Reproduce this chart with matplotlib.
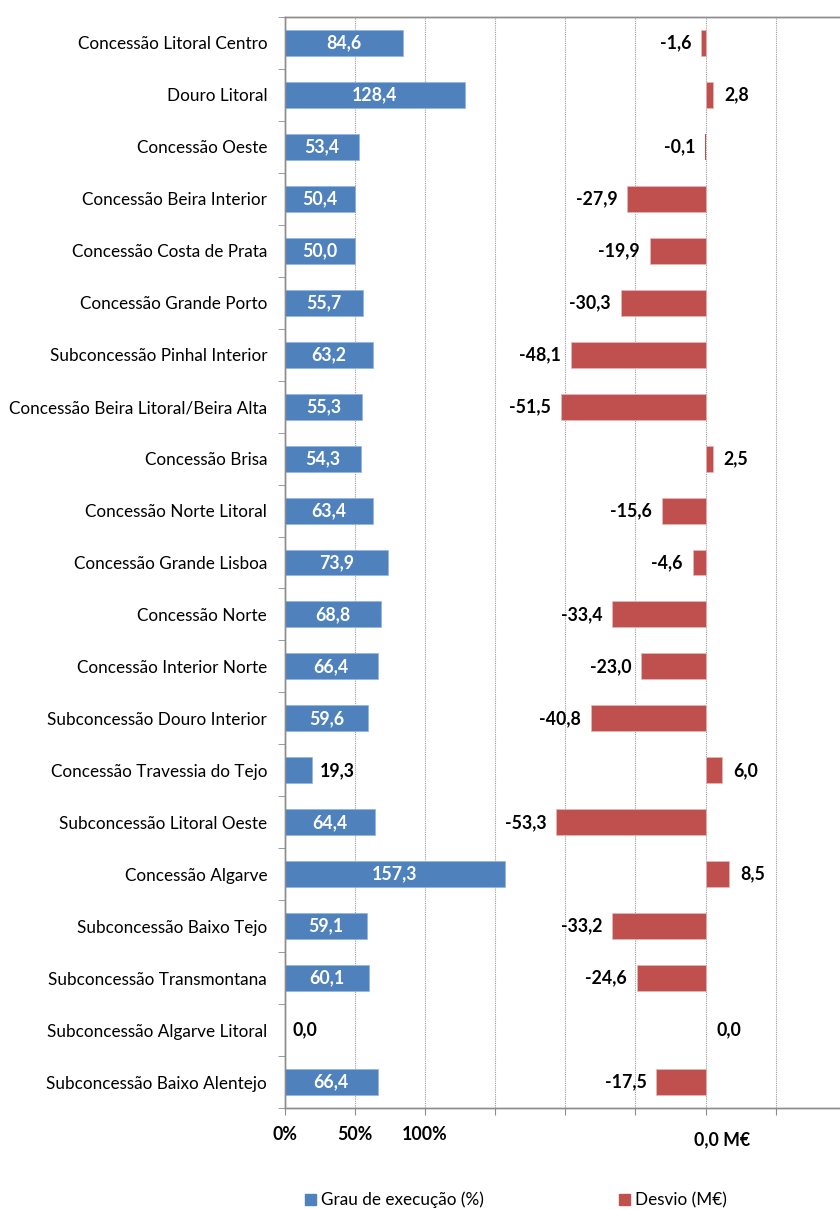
import matplotlib
matplotlib.use("Agg")
import matplotlib.pyplot as plt
import matplotlib.transforms as mtrans
from matplotlib.patches import Patch

categories = [
    "Concessão Litoral Centro", "Douro Litoral", "Concessão Oeste",
    "Concessão Beira Interior", "Concessão Costa de Prata", "Concessão Grande Porto",
    "Subconcessão Pinhal Interior", "Concessão Beira Litoral/Beira Alta", "Concessão Brisa",
    "Concessão Norte Litoral", "Concessão Grande Lisboa", "Concessão Norte",
    "Concessão Interior Norte", "Subconcessão Douro Interior", "Concessão Travessia do Tejo",
    "Subconcessão Litoral Oeste", "Concessão Algarve", "Subconcessão Baixo Tejo",
    "Subconcessão Transmontana", "Subconcessão Algarve Litoral", "Subconcessão Baixo Alentejo",
]
grau = [84.6, 128.4, 53.4, 50.4, 50.0, 55.7, 63.2, 55.3, 54.3, 63.4, 73.9,
        68.8, 66.4, 59.6, 19.3, 64.4, 157.3, 59.1, 60.1, 0.0, 66.4]
desvio = [-1.6, 2.8, -0.1, -27.9, -19.9, -30.3, -48.1, -51.5, 2.5, -15.6, -4.6,
          -33.4, -23.0, -40.8, 6.0, -53.3, 8.5, -33.2, -24.6, 0.0, -17.5]
pct_tick_labels = ["0%", "50%", "100%"]
euro_label = "0,0 M€"
legend_labels = ["Grau de execução (%)", "Desvio (M€)"]

BLUE = "#4F81BD"
RED = "#C0504D"
FONT = "Lato"
FS = 12.3
FSB = 12.8

plt.rcParams["font.family"] = [FONT, "DejaVu Sans"]

W, H = 840, 1210
fig = plt.figure(figsize=(W / 100, H / 100), dpi=100)
left, right, top, bottom = 284.5, 846.0, 17.0, 1108.0
ax = fig.add_axes([left / W, 1 - bottom / H, (right - left) / W, (bottom - top) / H])
ax2 = ax.twiny()

n = len(categories)
ypos = list(range(n))

ax.set_xlim(0, 400)
ax2.set_xlim(-150, 50)
ax.set_ylim(n - 0.5, -0.5)

bh = 0.5
blue_lw = [0.5 if abs(v) >= 0.5 else 0 for v in grau]
red_lw = [0.5 if abs(v) >= 0.5 else 0 for v in desvio]
ax.barh(ypos, grau, height=bh, color=BLUE, edgecolor="#8EB4E3", linewidth=blue_lw, zorder=3)
ax2.barh(ypos, desvio, height=bh, color=RED, edgecolor="#E6B9B8", linewidth=red_lw, zorder=3)

def fmt(v):
    return f"{v:.1f}".replace(".", ",")

for y, v in zip(ypos, grau):
    if v >= 30:
        ax.text(v / 2, y, fmt(v), ha="center", va="center", color="white",
                fontsize=FSB, fontweight="bold", zorder=4)
    else:
        ax.annotate(fmt(v), (v, y), xytext=(6, 0), textcoords="offset points",
                    ha="left", va="center", color="black", fontsize=FSB,
                    fontweight="bold", zorder=4)

for y, v in zip(ypos, desvio):
    if v < 0:
        ax2.annotate(fmt(v), (v, y), xytext=(-7, 0), textcoords="offset points",
                     ha="right", va="center", color="black", fontsize=FSB,
                     fontweight="bold", zorder=4)
    else:
        ax2.annotate(fmt(v), (v, y), xytext=(7.5, 0), textcoords="offset points",
                     ha="left", va="center", color="black", fontsize=FSB,
                     fontweight="bold", zorder=4)

# grid
for gx in range(50, 400, 50):
    ax.axvline(gx, color="#9A9A9A", linestyle=(0, (1, 1)), linewidth=0.8, zorder=1)

# spines
for a in (ax, ax2):
    for s in a.spines.values():
        s.set_color("#8C8C8C")
        s.set_linewidth(1.0)
    a.spines["right"].set_visible(False)

# y axis ticks
ax.set_yticks(ypos)
ax.set_yticklabels(categories, fontsize=FS)
ax.tick_params(axis="y", which="major", length=0, pad=12.5)
ax.set_yticks([i - 0.5 for i in range(n + 1)], minor=True)
ax.tick_params(axis="y", which="minor", length=5, color="#8C8C8C", direction="out")

# bottom ticks
ax.set_xticks(range(0, 401, 50))
ax.set_xticklabels(pct_tick_labels + [""] * 6, fontsize=FSB, fontweight="bold")
ax.tick_params(axis="x", length=5, color="#8C8C8C", direction="out", pad=8)

ax2.set_xticks([])
ax2.tick_params(axis="x", length=0)

# "0,0 M€" label
trans = mtrans.blended_transform_factory(ax2.transData, ax.transAxes)
ax2.annotate(euro_label, (0, 0), xycoords=trans, xytext=(12, -23), textcoords="offset points",
             ha="center", va="center", fontsize=FSB, fontweight="bold")

handles = [Patch(facecolor=BLUE, edgecolor=BLUE), Patch(facecolor=RED, edgecolor=RED)]
fig.legend(handles, legend_labels, loc="center left", bbox_to_anchor=(305 / W, 1 - 1200 / H),
           ncol=2, frameon=False, fontsize=FS, handlelength=0.65, handleheight=0.65,
           handletextpad=0.3, columnspacing=7.9, borderpad=0, borderaxespad=0)

fig.savefig("out.png", dpi=100)
